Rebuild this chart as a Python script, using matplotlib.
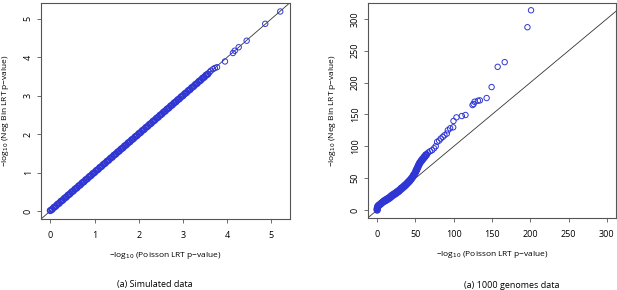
import matplotlib
matplotlib.use("Agg")
import matplotlib.pyplot as plt
import numpy as np

# (a) simulated data: both tests give (almost) the same -log10 p-values
sim_poisson = [0.00, 0.04, 0.08, 0.12, 0.16, 0.20, 0.24, 0.28, 0.32, 0.36, 0.40, 0.44,
               0.48, 0.52, 0.56, 0.60, 0.64, 0.68, 0.72, 0.76, 0.80, 0.84, 0.88, 0.92,
               0.96, 1.00, 1.04, 1.08, 1.12, 1.16, 1.20, 1.24, 1.28, 1.32, 1.36, 1.40,
               1.44, 1.48, 1.52, 1.56, 1.60, 1.64, 1.68, 1.72, 1.76, 1.80, 1.84, 1.88,
               1.92, 1.96, 2.00, 2.04, 2.08, 2.12, 2.16, 2.20, 2.24, 2.28, 2.32, 2.36,
               2.40, 2.44, 2.48, 2.52, 2.56, 2.60, 2.64, 2.68, 2.72, 2.76, 2.80, 2.84,
               2.88, 2.92, 2.96, 3.00, 3.04, 3.08, 3.12, 3.16, 3.20, 3.24, 3.28, 3.32,
               3.36, 3.40, 3.44, 3.48, 3.52, 3.56,
               3.60, 3.63, 3.68, 3.72, 3.77, 3.95, 4.13, 4.17, 4.26, 4.44, 4.86, 5.20]
sim_negbin = [0.01, 0.04, 0.09, 0.12, 0.17, 0.20, 0.25, 0.28, 0.33, 0.36, 0.41, 0.44,
              0.49, 0.52, 0.57, 0.60, 0.65, 0.68, 0.73, 0.76, 0.81, 0.84, 0.89, 0.92,
              0.97, 1.00, 1.05, 1.08, 1.13, 1.16, 1.21, 1.24, 1.29, 1.32, 1.37, 1.40,
              1.45, 1.48, 1.53, 1.56, 1.61, 1.64, 1.69, 1.72, 1.77, 1.80, 1.85, 1.88,
              1.93, 1.96, 2.01, 2.04, 2.09, 2.12, 2.17, 2.20, 2.25, 2.28, 2.33, 2.36,
              2.41, 2.44, 2.49, 2.52, 2.57, 2.60, 2.65, 2.68, 2.73, 2.76, 2.81, 2.84,
              2.89, 2.92, 2.97, 3.00, 3.05, 3.08, 3.13, 3.16, 3.21, 3.24, 3.29, 3.32,
              3.37, 3.40, 3.45, 3.48, 3.53, 3.56,
              3.61, 3.65, 3.69, 3.72, 3.74, 3.89, 4.11, 4.17, 4.26, 4.43, 4.87, 5.19]

# (b) 1000 genomes data
kg_poisson = [0.0, 0.0, 0.2, 0.5, 1.0, 1.5, 2.5, 3.5, 4.5, 5.5, 6.5, 7.5, 8.5, 9.5,
              10.5, 11.5, 12.5, 13.5, 14.5, 15.5, 16.5, 17.5, 18.5, 19.5, 20.5, 21.5,
              22.5, 23.5, 24.5, 25.5, 26.5, 27.5, 28.5, 29.5, 30.5, 31.5, 32.5, 33.5,
              34.5, 35.5, 36.5, 37.5, 38.5, 39.5, 40.5, 41.5, 42.5, 43.5, 44.5, 45.5,
              46.5, 47.5, 48.5, 49.5, 50.5, 51.0, 52.0, 52.5, 53.5, 54.0, 55.0, 55.5,
              56.5, 57.5, 58.5, 59.5, 60.5, 61.5, 62.5, 63.5, 64.5,
              66.5, 69.1, 71.7, 74.3, 76.5, 78.3, 80.9, 83.1, 85.7, 87.9, 91.0, 92.3,
              95.3, 99.3, 99.7, 103.6, 110.6, 115.4, 124.6, 125.9, 127.2, 131.6, 134.2,
              143.0, 149.5, 157.4, 166.6, 196.3, 201.0]
kg_negbin = [0.0, 1.5, 3.0, 4.5, 6.0, 7.0, 7.5, 9.0, 9.5, 11.0, 11.5, 13.0, 13.5, 15.0,
             14.5, 16.5, 16.0, 18.0, 17.5, 19.5, 19.0, 21.5, 21.0, 23.5, 23.0, 25.0,
             24.5, 26.5, 26.0, 28.5, 28.0, 30.0, 29.5, 32.0, 32.0, 34.5, 34.0, 36.0,
             36.0, 38.5, 38.0, 40.5, 40.5, 43.0, 43.0, 45.5, 45.5, 48.0, 48.5, 51.0,
             52.0, 55.0, 55.5, 58.5, 60.0, 63.0, 64.0, 66.5, 68.0, 70.5, 72.0, 74.0,
             75.0, 77.5, 78.0, 80.5, 81.0, 83.5, 84.0, 86.5, 87.0,
             90.2, 92.3, 93.9, 97.0, 100.2, 107.0, 109.0, 112.2, 114.8, 117.4, 120.0,
             125.2, 128.3, 129.9, 139.8, 145.5, 147.6, 149.2, 164.8, 166.4, 170.0,
             171.6, 172.1, 175.8, 193.0, 224.8, 232.1, 286.9, 313.5]

POINT_COLOR = "#2f36d4"
FRAME_COLOR = "#555555"

plt.rcParams["font.family"] = ["Open Sans", "DejaVu Sans"]
plt.rcParams["mathtext.fontset"] = "dejavusans"

fig = plt.figure(figsize=(6.17, 2.9), dpi=100)
ax1 = fig.add_axes([0.0665, 0.2448, 0.4035, 0.746])
ax2 = fig.add_axes([0.5964, 0.248, 0.402, 0.743])

xlab = "\u2212log$_{10}$ (Poisson LRT p\u2212value)"
ylab = "\u2212log$_{10}$ (Neg Bin LRT p\u2212value)"


def style_axes(ax, ticks, lims_x, lims_y):
    ax.set_xlim(*lims_x)
    ax.set_ylim(*lims_y)
    ax.set_xticks(ticks)
    ax.set_yticks(ticks)
    ax.tick_params(direction="out", length=3, width=0.6, color=FRAME_COLOR,
                   labelsize=6.5)
    ax.tick_params(axis="x", pad=5.5)
    ax.tick_params(axis="y", pad=3)
    for lab in ax.get_yticklabels():
        lab.set_rotation(90)
        lab.set_va("center")
    for sp in ax.spines.values():
        sp.set_color(FRAME_COLOR)
        sp.set_linewidth(0.8)
    ax.set_xlabel(xlab, fontsize=6, labelpad=7)
    ax.set_ylabel(ylab, fontsize=6, labelpad=9)


def draw_points(ax, x, y, dense_below):
    x = np.asarray(x)
    # overlapping circles in the crowded part merge into a solid band
    lw = np.where(x < dense_below, 1.3, 0.7)
    ax.scatter(x, y, s=15, facecolors="none", edgecolors=POINT_COLOR,
               linewidths=lw, zorder=2)


# left panel
ax1.plot([-1, 6], [-1, 6], color="#333333", lw=0.6, zorder=1)
draw_points(ax1, sim_poisson, sim_negbin, 3.58)
style_axes(ax1, [0, 1, 2, 3, 4, 5], (-0.21, 5.42), (-0.21, 5.42))

# right panel
ax2.plot([-20, 400], [-20, 400], color="#333333", lw=0.6, zorder=1)
draw_points(ax2, kg_poisson, kg_negbin, 65)
style_axes(ax2, [0, 50, 100, 150, 200, 250, 300], (-12, 312), (-12.5, 325.5))

fig.text(155 / 617, 1 - 285 / 290, "(a) Simulated data", fontsize=6.5,
         ha="center", va="center")
fig.text(512 / 617, 1 - 285 / 290, "(a) 1000 genomes data", fontsize=6.5,
         ha="center", va="center")

fig.savefig("out.png", dpi=100)
